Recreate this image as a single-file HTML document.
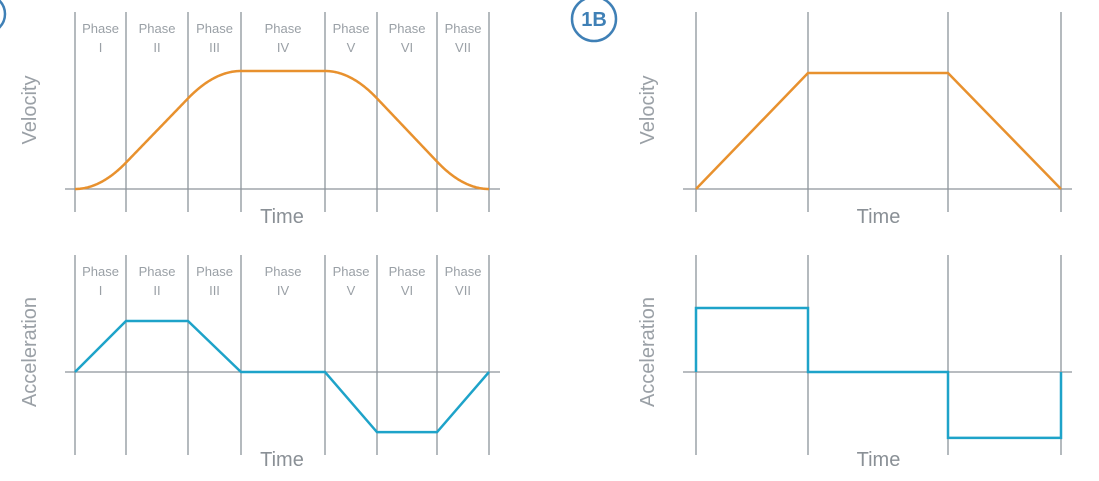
<!DOCTYPE html>
<html><head><meta charset="utf-8"><style>
body{margin:0;background:#fff;width:1099px;height:481px;overflow:hidden}
svg{display:block;font-family:"Liberation Sans",sans-serif}
</style></head><body>
<svg id="s" width="1099" height="481" viewBox="0 0 1099 481">
<circle cx="-14" cy="14" r="19" fill="none" stroke="#3f80b6" stroke-width="2.5"/>
<circle cx="594" cy="19" r="22" fill="none" stroke="#3f80b6" stroke-width="2.5"/>
<text x="594" y="26" text-anchor="middle" font-size="20" font-weight="bold" fill="#3f80b6">1B</text>
<g id="g"></g>
</svg>
<script>
// Left (S-curve) data: phase boundary times and acceleration at boundaries
const sBounds = [75, 126, 188, 241, 325, 377, 437, 489];
const sAccel = [0, 1, 1, 0, 0, -1.18, -1.18, 0];
const phaseNames = ["I","II","III","IV","V","VI","VII"];
// Right (trapezoid) data
const tBounds = [696, 808, 948, 1061];
const tAccel = [1, 0, -1.03];
const tVel = [0, 1, 1, 0];

const g = document.getElementById('g');
const NS = 'http://www.w3.org/2000/svg';
function mk(tag, attrs, parent){const e=document.createElementNS(NS,tag);for(const k in attrs)e.setAttribute(k,attrs[k]);(parent||g).appendChild(e);return e;}
const GRID='#8d949b', TXT='#9aa0a6';

function panel(bounds, top, bottom, base, x0, x1, xlab, ylab, ylx, yly, phases){
  const grp = mk('g',{});
  
  
  bounds.forEach((x,i)=>{
    const l = mk('line',{x1:x,x2:x,y1:top,y2:bottom,stroke:GRID,'stroke-width':1.3},grp);
    
    
  });
  const b = mk('line',{x1:x0,x2:x1,y1:base,y2:base,stroke:GRID,'stroke-width':1.3},grp);
  
  
  const t = mk('text',{x:(bounds[0]+bounds[bounds.length-1])/2,y:bottom+11,'text-anchor':'middle','font-size':20,fill:'#8a9096'},grp);
  t.textContent = xlab;
  
  
  const y = mk('text',{x:ylx,y:yly,'text-anchor':'middle','font-size':20,fill:TXT,transform:`rotate(-90 ${ylx} ${yly})`},grp);
  y.textContent = ylab;
  
  
  if(phases){
    phaseNames.forEach((p,i)=>{
      const cx=(bounds[i]+bounds[i+1])/2;
      const a = mk('text',{x:cx,y:top+21,'text-anchor':'middle','font-size':13,fill:TXT},grp);
      a.textContent='Phase';
      
      
      const n = mk('text',{x:cx,y:top+40,'text-anchor':'middle','font-size':13,fill:TXT},grp);
      n.textContent=p;
      
      
    });
  }
}

panel(sBounds, 12, 212, 189, 65, 500, 'Time', 'Velocity', 36, 110, true);
panel(sBounds, 255, 455, 372, 65, 500, 'Time', 'Acceleration', 36, 352, true);
panel(tBounds, 12, 212, 189, 683, 1072, 'Time', 'Velocity', 654, 110, false);
panel(tBounds, 255, 455, 372, 683, 1072, 'Time', 'Acceleration', 654, 352, false);

const vTop=71, vBase=189, aBase=372, aScale=51;
(function(){
  const accAt=x=>{for(let i=0;i<sBounds.length-1;i++){if(x<=sBounds[i+1]){const f=(x-sBounds[i])/(sBounds[i+1]-sBounds[i]);return sAccel[i]+(sAccel[i+1]-sAccel[i])*f;}}return 0;};
  const x0=sBounds[0], xe=sBounds[sBounds.length-1];
  // integrate positive and negative acceleration separately, normalise each to reach full velocity
  let up=0, dn=0; const cum=[];
  for(let x=x0;x<=xe;x++){cum.push([x,up,dn]);const a=accAt(x+0.5);if(a>0)up+=a;else dn+=-a;}
  const pts=cum.map(([x,u,d])=>{const v=(up?u/up:0)-(dn?d/dn:0);return x+','+(vBase-v*(vBase-vTop)).toFixed(2);});
  const p=mk('polyline',{points:pts.join(' '),fill:'none',stroke:'#e8912e','stroke-width':2.5});
  
  
  const ap=sBounds.map((x,i)=>x+','+(aBase-sAccel[i]*aScale)).join(' ');
  const a=mk('polyline',{points:ap,fill:'none',stroke:'#1ea3c9','stroke-width':2.5});
  
  
})();

(function(){
  const tvTop=73;
  const vp=tBounds.map((x,i)=>x+','+(vBase-tVel[i]*(vBase-tvTop))).join(' ');
  const p=mk('polyline',{points:vp,fill:'none',stroke:'#e8912e','stroke-width':2.5});
  
  
  const sc=64; const pts=[tBounds[0]+','+aBase];
  tAccel.forEach((a,i)=>{pts.push(tBounds[i]+','+(aBase-a*sc));pts.push(tBounds[i+1]+','+(aBase-a*sc));});
  pts.push(tBounds[tBounds.length-1]+','+aBase);
  const a=mk('polyline',{points:pts.join(' '),fill:'none',stroke:'#1ea3c9','stroke-width':2.5});
  
  
})();
</script>
</body></html>
